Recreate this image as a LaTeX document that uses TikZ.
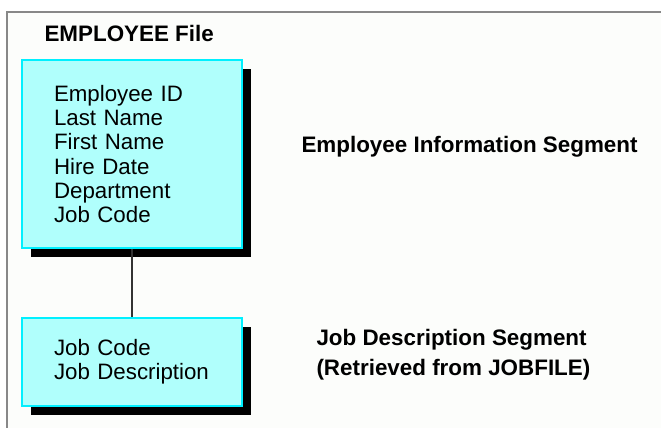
\documentclass[tikz,border=0pt]{standalone}
\usepackage{fontspec}
\setmainfont{Liberation Sans}
\usetikzlibrary{shadows}
\definecolor{segfill}{RGB}{176,255,252}
\definecolor{segline}{RGB}{0,240,255}
\definecolor{framegray}{RGB}{136,136,136}
\definecolor{paper}{RGB}{252,253,251}
\begin{document}
\begin{tikzpicture}[x=1pt,y=-1pt,
  segbox/.style={draw=segline, line width=1.5pt, fill=segfill, inner xsep=32pt,
    text width=156pt, align=left, font=\fontsize{22.3}{24.2}\selectfont,
    drop shadow={shadow xshift=9pt, shadow yshift=-9pt, fill=black, opacity=1}},
  caption/.style={anchor=west, align=left, font=\bfseries\fontsize{22.4}{30}\selectfont}]
  \useasboundingbox (0,0) rectangle (661,428);

  % Frame
  \fill[paper] (7,12) rectangle (661,428);
  \draw[framegray, line width=2pt] (7,428) -- (7,12) -- (661,12);

  % Segments
  \node[segbox, minimum width=220pt, minimum height=188pt] (empseg) at (132,154)
    {Employee ID\\Last Name\\First Name\\Hire Date\\Department\\Job Code};
  \node[segbox, minimum width=220pt, minimum height=88pt] (jobseg) at (132,362)
    {Job Code\\Job Description};

  % Link between segments
  \draw[line width=1.5pt, black!80] (empseg.south) -- (jobseg.north);

  % Labels
  \node[caption] (filetitle) at (41,33) {EMPLOYEE File};
  \node[caption] (emplabel) at (298,147) {Employee Information Segment};
  \node[caption] (joblabel) at (313,355) {Job Description Segment\\(Retrieved from JOBFILE)};
\end{tikzpicture}
\end{document}
